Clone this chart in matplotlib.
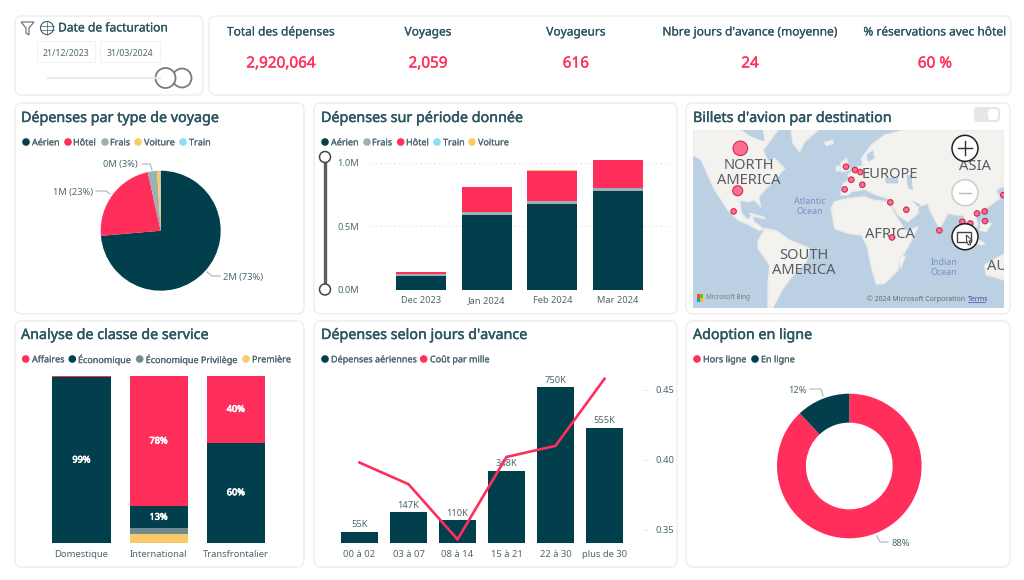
import numpy as np
import matplotlib
matplotlib.use("Agg")
import matplotlib.pyplot as plt
import matplotlib.patheffects as pe
from matplotlib.patches import FancyBboxPatch, Circle, Polygon, Rectangle

plt.rcParams['font.family'] = ['Noto Sans', 'DejaVu Sans']

DARK = "#023f4d"
PINK = "#ff2e5b"
GREY = "#9db0b3"
YELLOW = "#fbc969"
BLUE = "#8ddcf6"
PRIV = "#6f8c91"
TITLE = "#2b5561"
LABEL = "#4d6770"
SEA = "#bcd0e3"

# KPI
kpi_names = ["Total des dépenses", "Voyages", "Voyageurs", "Nbre jours d'avance (moyenne)", "% réservations avec hôtel"]
kpi_values = ["2,920,064", "2,059", "616", "24", "60 %"]

# depenses par type (M)
type_names = ["Aérien", "Hôtel", "Frais", "Voiture", "Train"]
type_values = [2.15, 0.669, 0.073, 0.026, 0.002]

# depenses par mois (M)
months = ["Dec 2023", "Jan 2024", "Feb 2024", "Mar 2024"]
m_aerien = [0.107, 0.59, 0.672, 0.777]
m_frais = [0.012, 0.02, 0.022, 0.024]
m_hotel = [0.02, 0.195, 0.242, 0.215]
m_train = [0.0005, 0.001, 0.001, 0.001]
m_voiture = [0.0005, 0.002, 0.002, 0.006]
month_ticks = [0.0, 0.5, 1.0]

# classe de service (%)
segments = ["Domestique", "International", "Transfrontalier"]
c_premiere = [0, 5.2, 0]
c_privilege = [0, 3.4, 0]
c_economique = [99.2, 13.4, 60]
c_affaires = [0.8, 78, 40]

# jours d'avance
day_bins = ["00 à 02", "03 à 07", "08 à 14", "15 à 21", "22 à 30", "plus de 30"]
day_spend = [55, 147, 110, 348, 750, 555]
day_labels = ["55K", "147K", "110K", "348K", "750K", "555K"]
day_cost = [0.398, 0.3825, 0.343, 0.402, 0.41, 0.458]
cost_ticks = [0.35, 0.40, 0.45]

# en ligne
online_names = ["Hors ligne", "En ligne"]
online_values = [88, 12]

# carte, unites de fond de carte
dest_x = [167, 159, 147, 484, 511, 527, 500, 480, 533, 617, 665, 764, 622, 833, 857, 877, 900, 901, 956]
dest_y = [145, 272, 334, 200, 210, 216, 239, 268, 254, 307, 329, 391, 412, 365, 370, 340, 334, 363, 285]
dest_d = [14.5, 10, 5.5, 5.5, 5.5, 5.5, 5.5, 5.5, 5.5, 5.5, 5.5, 5.5, 5.5, 5.5, 5.5, 5.5, 5.5, 5.5, 5.5]

land = [
    [(25, 90), (280, 90), (250, 130), (235, 150), (250, 185), (270, 175), (300, 205), (270, 240), (240, 270), (222, 290),
     (228, 320), (210, 300), (190, 305), (165, 300), (170, 340), (190, 360), (203, 345), (207, 365), (235, 385), (225, 392),
     (195, 375), (160, 360), (130, 330), (110, 300), (90, 270), (70, 225), (50, 180), (25, 165)],
    [(320, 90), (400, 90), (360, 125), (345, 155), (325, 130)],
    [(420, 128), (445, 120), (445, 130), (425, 137)],
    [(195, 340), (235, 350), (240, 355), (200, 347)],
    [(220, 425), (240, 385), (275, 392), (315, 420), (375, 445), (365, 485), (325, 525), (295, 565), (265, 622), (250, 622),
     (250, 555), (255, 495), (220, 445)],
    [(440, 325), (450, 305), (490, 295), (540, 290), (565, 300), (610, 305), (635, 350), (665, 395), (700, 380), (670, 440),
     (645, 480), (640, 510), (600, 550), (575, 552), (560, 500), (548, 440), (530, 405), (490, 400), (450, 385)],
    [(645, 470), (662, 468), (648, 505)],
    [(468, 285), (475, 250), (495, 240), (490, 225), (510, 205), (535, 195), (530, 175), (560, 135), (600, 105), (640, 95),
     (650, 90), (958, 90), (958, 255), (935, 270), (945, 295), (910, 320), (885, 335), (870, 345), (880, 375), (860, 400),
     (850, 370), (835, 345), (820, 345), (790, 340), (765, 385), (735, 330), (730, 310), (700, 320), (700, 340), (670, 365),
     (640, 345), (620, 310), (610, 295), (575, 285), (540, 268), (500, 275), (490, 285)],
    [(468, 190), (485, 175), (495, 210), (470, 215)],
    [(455, 200), (465, 197), (465, 212), (455, 213)],
    [(945, 250), (958, 240), (958, 262)],
    [(900, 495), (925, 480), (958, 462), (958, 540), (925, 530), (905, 525)],
    [(860, 405), (900, 430), (890, 435), (855, 415)],
    [(890, 365), (920, 370), (905, 395), (885, 390)],
]
water = [
    [(170, 90), (235, 90), (240, 125), (200, 110)],
    [(545, 165), (565, 150), (570, 175), (550, 185)],
    [(600, 235), (640, 232), (640, 250), (605, 250)],
    [(665, 225), (680, 225), (685, 270), (670, 265)],
    [(680, 300), (710, 315), (700, 320)],
]
map_labels = [("NORTH\nAMERICA", 193, 218), ("EUROPE", 617, 222), ("ASIA", 870, 200), ("AFRICA", 616, 404), ("SOUTH\nAMERICA", 358, 490)]

W, H = 1024, 580
fig = plt.figure(figsize=(W / 100, H / 100), dpi=100)
bg = fig.add_axes([0, 0, 1, 1], zorder=0)
bg.set_xlim(0, W)
bg.set_ylim(H, 0)
bg.axis("off")


def add_ax(x0, y0, x1, y1):
    ax = fig.add_axes([x0 / W, 1 - y1 / H, (x1 - x0) / W, (y1 - y0) / H], zorder=1)
    ax.patch.set_alpha(0)
    for s in ax.spines.values():
        s.set_visible(False)
    return ax


def heavy(t, c, w=0.3):
    # pas de graisse semi-bold dispo, on epaissit le trait
    t.set_path_effects([pe.withStroke(linewidth=w, foreground=c)])
    return t


def card(x0, y0, x1, y1):
    bg.add_patch(FancyBboxPatch((x0, y0), x1 - x0, y1 - y0, boxstyle="round,pad=0,rounding_size=7",
                                fc="white", ec="#e9ebec", lw=0.9))


def title(x, y, s):
    heavy(bg.text(x, y + 1.5, s, fontsize=10.3, color=TITLE, va="center"), TITLE)


def legend(y, dots, texts, names, colors):
    for d, t, n, c in zip(dots, texts, names, colors):
        bg.add_patch(Circle((d, y), 3.8, color=c, lw=0))
        heavy(bg.text(t, y + 0.8, n, fontsize=6.5, color=LABEL, va="center"), LABEL, 0.15)


def leader(pts):
    xs, ys = zip(*pts)
    bg.plot(xs, ys, color="#a9b4b8", lw=0.8)


def small(x, y, s, ha="left"):
    bg.text(x, y + 0.8, s, fontsize=6.7, color=LABEL, va="center", ha=ha)


# cartes
for box in [(15, 16, 203, 95), (209, 16, 1011, 95), (15, 103, 304, 314), (314, 103, 677, 314), (686, 103, 1010, 314),
            (15, 321, 304, 567), (314, 321, 677, 567), (686, 321, 1010, 567)]:
    card(*box)

# filtre date
bg.add_patch(Polygon([(21, 22), (34, 22), (29, 28), (29, 35), (26, 33), (26, 28)], fc="none", ec="#777777", lw=0.9))
bg.add_patch(Circle((47, 28), 6.5, fc="none", ec="#3b5a64", lw=0.8))
bg.plot([40.5, 53.5], [26, 26], color="#3b5a64", lw=0.5)
bg.plot([40.5, 53.5], [30, 30], color="#3b5a64", lw=0.5)
bg.plot([47, 47], [21.5, 34.5], color="#3b5a64", lw=0.5)
heavy(bg.text(58, 28, "Date de facturation", fontsize=8.7, color=TITLE, va="center"), TITLE, 0.2)
for x0, x1, s in [(37, 95, "21/12/2023"), (100, 160, "31/03/2024")]:
    bg.add_patch(Rectangle((x0, 41), x1 - x0, 21, fc="white", ec="#f2f2f2", lw=0.8))
    bg.text((x0 + x1) / 2, 53.5, s, fontsize=6.3, color=LABEL, ha="center", va="center")
bg.plot([48, 160], [78, 78], color="#e9e9e9", lw=1.5)
bg.add_patch(Circle((182, 78), 9.5, fc="white", ec="#7a7a7a", lw=1.3))
bg.add_patch(Circle((165.5, 78), 10, fc="white", ec="#7a7a7a", lw=1.3))

# KPI
for cx, n, v in zip([281, 428, 576, 750, 935], kpi_names, kpi_values):
    heavy(bg.text(cx, 32, n, fontsize=8.6, color=TITLE, ha="center", va="center"), TITLE, 0.15)
    heavy(bg.text(cx, 64, v, fontsize=11, color=PINK, ha="center", va="center"), PINK, 0.25)

# camembert types
title(21, 117, "Dépenses par type de voyage")
legend(142, [26, 68, 105, 138, 183], [32, 73, 110, 144, 189], type_names, [DARK, PINK, GREY, YELLOW, BLUE])
ax = add_ax(100.7, 170.7, 220.7, 290.7)
ax.pie(type_values, colors=[DARK, PINK, GREY, YELLOW, BLUE], startangle=90, counterclock=False, radius=1)
ax.set_xlim(-1, 1)
ax.set_ylim(-1, 1)
leader([(207, 272), (212, 276), (220, 276)])
small(223, 276.5, "2M (73%)")
leader([(96, 191), (106, 191), (110, 194)])
small(93, 192, "1M (23%)", ha="right")
leader([(142, 164), (150, 164), (152, 170)])
small(138, 164, "0M (3%)", ha="right")

# depenses par mois
title(321, 117, "Dépenses sur période donnée")
legend(142, [325, 367, 400.7, 437, 472], [331, 372, 406, 443, 478],
       ["Aérien", "Frais", "Hôtel", "Train", "Voiture"], [DARK, GREY, PINK, BLUE, YELLOW])
ax = add_ax(367, 157, 670, 289.5)
x = np.arange(len(months))
bottom = np.zeros(len(months))
for vals, c in [(m_aerien, DARK), (m_frais, GREY), (m_hotel, PINK), (m_train, BLUE), (m_voiture, YELLOW)]:
    ax.bar(x, vals, width=0.761, bottom=bottom, color=c, zorder=3)
    bottom = bottom + np.array(vals)
ax.set_xlim((367 - 421) / 65.7, (670 - 421) / 65.7)
ax.set_ylim(0, 132.5 / 127)
ax.set_xticks(x, months)
ax.set_yticks(month_ticks, ["0.0M", "0.5M", "1.0M"])
ax.tick_params(length=0, labelsize=6.7, labelcolor=LABEL)
ax.tick_params(axis="y", pad=6)
ax.tick_params(axis="x", pad=5)
ax.grid(axis="y", color="#d8dcdd", linestyle=(0, (1, 3)), lw=0.8, zorder=0)
ax.set_axisbelow(True)
bg.plot([325, 325], [157, 289.5], color="#605e5c", lw=2.4)
for yy in [157, 289.5]:
    bg.add_patch(Circle((325, yy), 5.5, fc="white", ec="#444444", lw=1.1, zorder=5))

# carte
title(693, 117, "Billets d'avion par destination")
bg.add_patch(FancyBboxPatch((974, 107), 26, 15, boxstyle="round,pad=0,rounding_size=4", fc="#e6e6e6", ec="none"))
bg.add_patch(FancyBboxPatch((988, 109), 10, 11, boxstyle="round,pad=0,rounding_size=3", fc="white", ec="none"))
ax = add_ax(693, 130, 1004, 307.5)
ax.patch.set_alpha(1)
ax.set_facecolor(SEA)
for poly in land:
    ax.add_patch(Polygon(poly, fc="#f4f2ee", ec="#e9ebec", lw=1, joinstyle="round"))
for poly in water:
    ax.add_patch(Polygon(poly, fc=SEA, ec="none", joinstyle="round"))
for s, mx, my in map_labels:
    ax.text(mx, my, s, fontsize=10.6, color="#5b5c63", ha="center", va="center", linespacing=1.0, zorder=4)
ax.text(908, 500, "AU", fontsize=10.6, color="#5b5c63", va="center", clip_on=True, zorder=4)
ax.text(376, 320, "Atlantic\nOcean", fontsize=6.4, color="#7b90c8", ha="center", va="center", zorder=4)
ax.text(777, 503, "Indian\nOcean", fontsize=6.4, color="#7b90c8", ha="center", va="center", zorder=4)
ax.scatter(dest_x, dest_y, s=[(d * 0.72) ** 2 for d in dest_d], c="#ff6f8f", edgecolors="#d02a52", linewidths=0.8, zorder=5)
for (cx, cy), c in zip([(36, 582), (46, 582), (36, 594), (46, 594)], ["#f25022", "#7fba00", "#00a4ef", "#ffb900"]):
    ax.add_patch(Rectangle((cx, cy), 10, 12, fc=c, ec="none", zorder=4))
ax.text(64, 593, "Microsoft Bing", fontsize=4.6, color="#777777", va="center", zorder=4)
ax.text(548, 597, "© 2024 Microsoft Corporation", fontsize=5, color="#6a6a6a", va="center", zorder=4)
ax.text(850, 597, "Terms", fontsize=5, color="#3a4f9a", va="center", zorder=4)
ax.plot([850, 901], [606, 606], color="#3a4f9a", lw=0.5, zorder=4)
ax.add_patch(Circle((841, 145), 39, fc="white", ec="#222222", lw=1.1, zorder=6))
ax.plot([820, 862], [145, 145], color="#333333", lw=1, zorder=7)
ax.plot([841, 841], [124, 166], color="#333333", lw=1, zorder=7)
ax.add_patch(Circle((841, 278), 39, fc="white", ec="#cccccc", lw=1.1, zorder=6))
ax.plot([822, 860], [278, 278], color="#bbbbbb", lw=1, zorder=7)
ax.add_patch(Circle((841, 410), 39, fc="white", ec="#222222", lw=1.1, zorder=6))
ax.add_patch(Rectangle((818, 395), 40, 30, fc="none", ec="#444444", lw=1, zorder=7))
ax.add_patch(Polygon([(845, 405), (862, 420), (853, 423), (858, 434), (851, 434), (846, 423)], fc="white", ec="#444444", lw=0.8, zorder=8))
ax.set_xlim(25, 958)
ax.set_ylim(622, 90)
ax.set_xticks([])
ax.set_yticks([])

# classe de service
title(21, 334, "Analyse de classe de service")
legend(359, [25.7, 72.3, 139.7, 246], [32, 78, 145.7, 252], ["Affaires", "Économique", "Économique Privilège", "Première"],
       [PINK, DARK, PRIV, YELLOW])
ax = add_ax(40, 376, 280, 542.7)
x = np.arange(len(segments))
bottom = np.zeros(len(segments))
for vals, c in [(c_premiere, YELLOW), (c_privilege, PRIV), (c_economique, DARK), (c_affaires, PINK)]:
    ax.bar(x, vals, width=0.756, bottom=bottom, color=c)
    for i, v in enumerate(vals):
        if v > 10:
            heavy(ax.text(i, bottom[i] + v / 2, f"{round(v)}%", color="white", fontsize=6.6, ha="center", va="center"), "white", 0.5)
    bottom = bottom + np.array(vals)
ax.set_xlim((40 - 81.5) / 77.2, (280 - 81.5) / 77.2)
ax.set_ylim(0, 100)
ax.set_yticks([])
ax.set_xticks(x, segments)
ax.tick_params(length=0, labelsize=6.8, labelcolor=LABEL, pad=5)

# jours d'avance
title(321, 334, "Dépenses selon jours d'avance")
legend(359, [325, 423.7], [331, 430], ["Dépenses aériennes", "Coût par mille"], [DARK, PINK])
ax = add_ax(335, 375, 643, 543)
x = np.arange(len(day_bins))
ax.bar(x, day_spend, width=0.77, color=DARK, zorder=2)
for i, (v, s) in enumerate(zip(day_spend, day_labels)):
    ax.text(i, v + 12, s, fontsize=6.7, color=LABEL, ha="center", va="bottom", zorder=3)
ax.set_xlim((335 - 359.5) / 49, (643 - 359.5) / 49)
ax.set_ylim(0, 168 / 156 * 750)
ax.set_yticks([])
ax.set_xticks(x, day_bins)
ax.tick_params(length=0, labelsize=6.8, labelcolor=LABEL, pad=5)
ax2 = ax.twinx()
ax2.patch.set_alpha(0)
for s in ax2.spines.values():
    s.set_visible(False)
ax2.plot(x, day_cost, color=PINK, lw=1.9, solid_joinstyle="miter", zorder=5)
ax2.set_ylim(0.3404, 0.4607)
ax2.set_yticks(cost_ticks, ["0.35", "0.40", "0.45"])
ax2.tick_params(axis="y", length=4, color="#ececec", labelsize=6.8, labelcolor=LABEL, pad=5)

# en ligne
title(693, 334, "Adoption en ligne")
legend(359, [697, 755], [703, 761], online_names, [PINK, DARK])
ax = add_ax(777, 393.7, 921.6, 538.3)
ax.pie(online_values, colors=[PINK, DARK], startangle=90, counterclock=False, radius=1, wedgeprops=dict(width=0.4))
ax.set_xlim(-1, 1)
ax.set_ylim(-1, 1)
leader([(810, 389), (821, 389), (823, 396)])
small(807, 390, "12%", ha="right")
leader([(877, 536), (880, 542), (888, 542)])
small(891, 543, "88%")

fig.savefig("out.png", dpi=100, facecolor="white")
